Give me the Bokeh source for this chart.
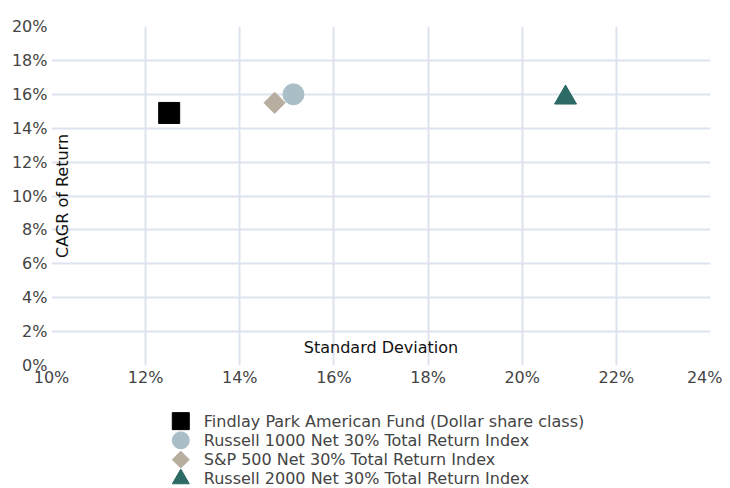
from bokeh.plotting import figure
from bokeh.layouts import column
from bokeh.models import (ColumnDataSource, Label, FixedTicker, NumeralTickFormatter,
                          Range1d, FactorRange)
from bokeh.core.properties import value
from bokeh.embed import file_html
from bokeh.resources import INLINE
import math

names = ["Findlay Park American Fund (Dollar share class)",
         "Russell 1000 Net 30% Total Return Index",
         "S&P 500 Net 30% Total Return Index",
         "Russell 2000 Net 30% Total Return Index"]
std_dev = [0.125, 0.1514, 0.1474, 0.2092]
cagr = [0.149, 0.160, 0.155, 0.158]
markers = ["square", "circle", "square", "triangle"]
angles = [0.0, 0.0, math.pi / 4, 0.0]
sizes = [21, 21, 15, 22]
legend_sizes = [17, 17, 12, 17]
colors = ["#000000", "#a9bec6", "#b7aea0", "#2d6a66"]

x_ticks = [0.10, 0.12, 0.14, 0.16, 0.18, 0.20, 0.22, 0.24]
y_ticks = [0.0, 0.02, 0.04, 0.06, 0.08, 0.10, 0.12, 0.14, 0.16, 0.18, 0.20]

FONT = "DejaVu Sans"
FS = "16px"
GRID = "#dde4ef"
W = 722

p = figure(width=W, height=390, output_backend="svg", toolbar_location=None,
           x_range=Range1d(0.10, 0.24), y_range=Range1d(0.0, 0.20),
           min_border_left=51, min_border_right=12, min_border_top=26,
           min_border_bottom=25)
p.outline_line_color = None

for ax, ticks in ((p.xaxis, x_ticks), (p.yaxis, y_ticks)):
    ax.ticker = FixedTicker(ticks=ticks)
    ax.formatter = NumeralTickFormatter(format="0%")
    ax.axis_line_color = None
    ax.major_tick_line_color = None
    ax.minor_tick_line_color = None
    ax.major_tick_out = 0
    ax.major_tick_in = 0
    ax.minor_tick_out = 0
    ax.major_label_text_font = FONT
    ax.major_label_text_font_size = FS
    ax.major_label_text_color = "#444444"
p.xaxis.major_label_standoff = 2
p.yaxis.major_label_standoff = 4
p.yaxis.major_label_text_baseline = "alphabetic"

for g in (p.xgrid, p.ygrid):
    g.grid_line_color = GRID
    g.grid_line_width = 2

src = ColumnDataSource(dict(x=std_dev, y=cagr, marker=markers, angle=angles,
                            size=sizes, color=colors))
p.scatter("x", "y", source=src, marker="marker", size="size", angle="angle",
          fill_color="color", line_color="color")

p.add_layout(Label(x=0.17, y=0.0106, text="Standard Deviation", text_align="center",
                   text_baseline="middle", text_font=FONT, text_font_size=FS,
                   text_color="#111111"))
p.add_layout(Label(x=0.1023, y=0.10, text="CAGR of Return", angle=math.pi / 2,
                   text_align="center", text_baseline="middle", text_font=FONT,
                   text_font_size=FS, text_color="#111111"))

# legend drawn as its own small panel below the chart
lg = figure(width=W, height=98, output_backend="svg", toolbar_location=None,
            x_range=Range1d(0, 1), y_range=FactorRange(factors=names[::-1]),
            x_axis_type=None, y_axis_type=None,
            min_border_left=0, min_border_right=0, min_border_top=21,
            min_border_bottom=-3)
lg.outline_line_color = None
lg.xgrid.visible = False
lg.ygrid.visible = False
lg.y_range.range_padding = 0
lsrc = ColumnDataSource(dict(x=[0.1962] * len(names), y=names, marker=markers,
                             angle=angles, size=legend_sizes, color=colors))
lg.scatter("x", "y", source=lsrc, marker="marker", size="size", angle="angle",
           fill_color="color", line_color="color")
lg.text("x", "y", text="y", source=lsrc, x_offset=23, text_align="left",
        text_baseline="middle", text_font=value(FONT), text_font_size=value(FS),
        text_color="#444444")

layout = column(p, lg, spacing=0)
open("out.html", "w").write(file_html(layout, INLINE))
